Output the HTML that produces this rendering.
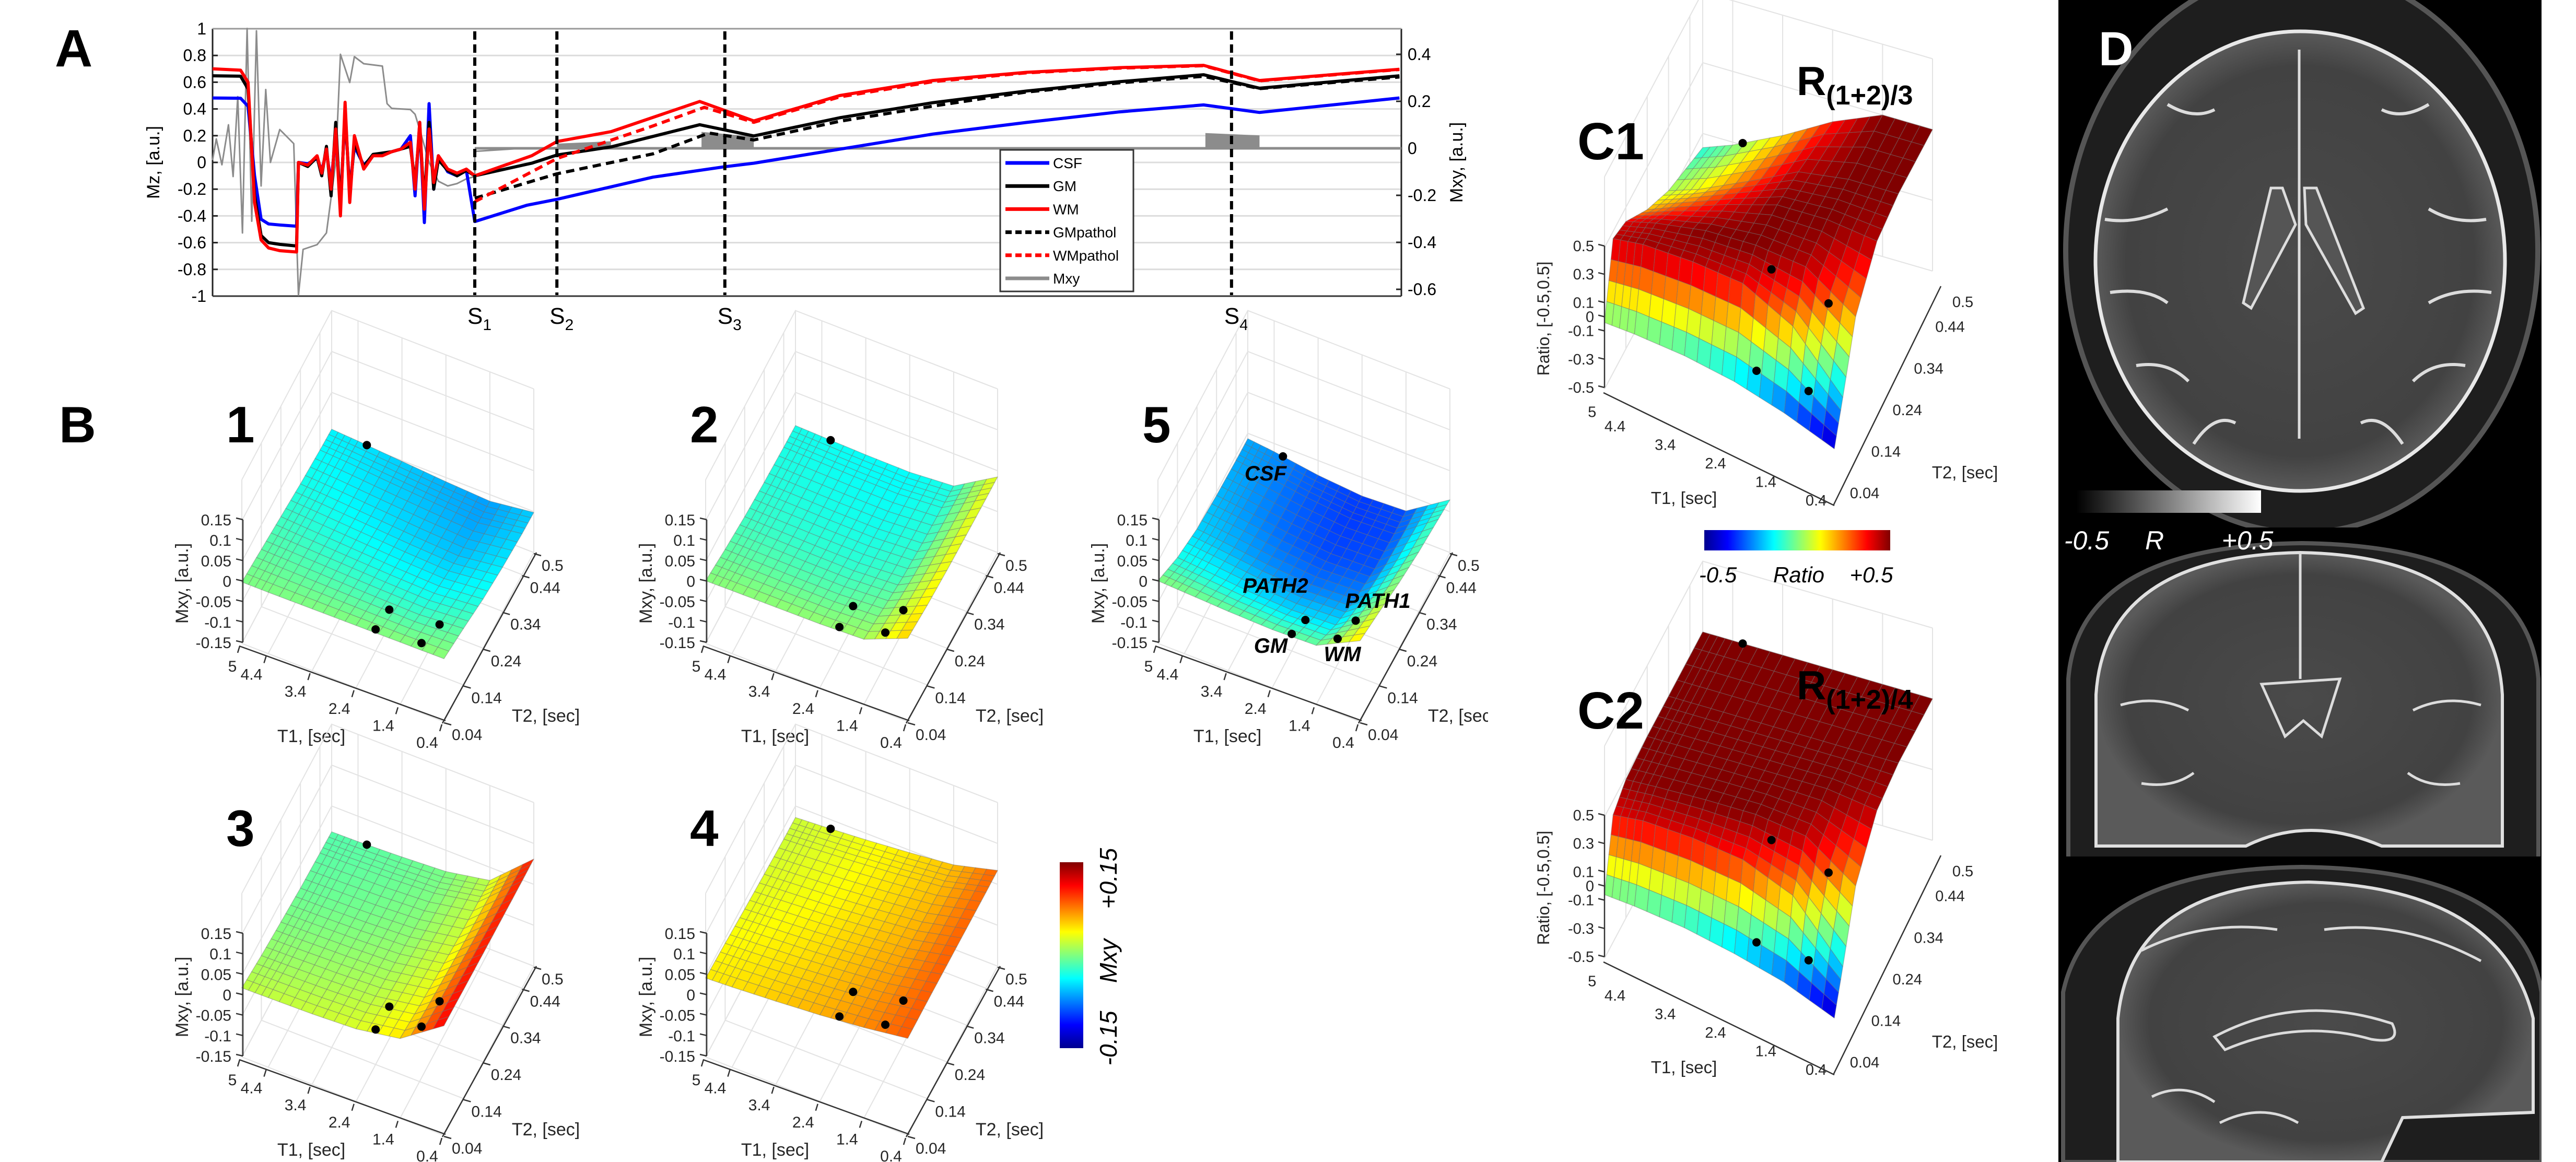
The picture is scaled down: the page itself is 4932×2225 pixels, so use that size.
<!DOCTYPE html>
<html><head><meta charset="utf-8">
<style>
html,body{margin:0;padding:0;background:#fff;overflow:hidden}
svg{display:block}
text{font-family:"Liberation Sans",sans-serif}
.nar{font-family:"Liberation Sans Narrow","Liberation Sans",sans-serif}
</style></head>
<body>
<svg id="fig" xmlns="http://www.w3.org/2000/svg" width="4932" height="2225" viewBox="0 0 4932 2225">
<defs>
<linearGradient id="jetH" x1="0" y1="0" x2="1" y2="0">
<stop offset="0" stop-color="#00008f"/><stop offset="0.125" stop-color="#0000ff"/><stop offset="0.375" stop-color="#00ffff"/><stop offset="0.625" stop-color="#ffff00"/><stop offset="0.875" stop-color="#ff0000"/><stop offset="1" stop-color="#800000"/>
</linearGradient>
<linearGradient id="jetV" x1="0" y1="1" x2="0" y2="0">
<stop offset="0" stop-color="#00008f"/><stop offset="0.125" stop-color="#0000ff"/><stop offset="0.375" stop-color="#00ffff"/><stop offset="0.625" stop-color="#ffff00"/><stop offset="0.875" stop-color="#ff0000"/><stop offset="1" stop-color="#800000"/>
</linearGradient>
<linearGradient id="grayH" x1="0" y1="0" x2="1" y2="0">
<stop offset="0" stop-color="#000"/><stop offset="1" stop-color="#fff"/>
</linearGradient>
<radialGradient id="brainG" cx="0.5" cy="0.5" r="0.5">
<stop offset="0" stop-color="#4a4a4a"/><stop offset="0.85" stop-color="#424242"/><stop offset="1" stop-color="#5a5a5a"/>
</radialGradient>
</defs>
</svg>
<script>
// ================= PANEL A DATA =================
const preTime=[0,30,38,45,52,60,72,90];
const oscTime=[92,102,112,117,122,127,132,137,142,147,152,162,172,182,192,202,212,217,222,227,232,237,242,252,262,272];
const wmPre=[0.70,0.69,0.6,-0.3,-0.58,-0.64,-0.66,-0.67];
const gmPre=[0.648,0.645,0.55,-0.25,-0.547,-0.6,-0.613,-0.625];
const csfPre=[0.482,0.48,0.42,-0.1,-0.425,-0.46,-0.468,-0.477];
const wmOsc=[0,-0.02,0.05,-0.08,0.1,-0.2,0.25,-0.4,0.45,-0.3,0.2,-0.05,0.05,0.05,0.08,0.1,0.15,-0.2,0.3,-0.35,0.25,-0.15,0.05,-0.05,-0.08,-0.05];
const gmOsc=[0,-0.03,0.04,-0.1,0.12,-0.25,0.3,-0.35,0.4,-0.25,0.15,-0.03,0.06,0.07,0.08,0.1,0.12,-0.15,0.25,-0.3,0.3,-0.2,0.02,-0.06,-0.1,-0.06];
const csfOsc=[0,-0.01,0.03,-0.06,0.08,-0.15,0.2,-0.3,0.35,-0.2,0.12,-0.02,0.05,0.06,0.08,0.1,0.2,-0.25,0.3,-0.45,0.44,-0.2,0.05,-0.07,-0.1,-0.06];
const wmPostTime=[281,342,369,427,522,580,672,772,872,972,1062,1122,1272];
const wmPost=[-0.1,0.05,0.156,0.23,0.456,0.31,0.5,0.613,0.674,0.709,0.726,0.613,0.697];
const gmPostTime=[281,342,369,427,522,580,672,772,872,972,1062,1122,1272];
const gmPost=[-0.1,-0.006,0.055,0.116,0.282,0.198,0.334,0.447,0.534,0.604,0.656,0.555,0.648];
const csfPostTime=[281,337,369,472,549,580,672,772,872,972,1062,1122,1272];
const csfPost=[-0.442,-0.32,-0.276,-0.11,-0.032,-0.006,0.099,0.212,0.299,0.378,0.43,0.374,0.482];
const gmpTime=[281,369,472,532,580,672,772,872,972,1062,1122,1272];
const gmpVal=[-0.268,-0.085,0.064,0.22,0.168,0.308,0.421,0.526,0.595,0.644,0.552,0.639];
const wmpTime=[281,369,472,527,580,672,772,872,972,1062,1122,1272];
const wmpVal=[-0.294,0.029,0.273,0.412,0.30,0.49,0.604,0.67,0.705,0.723,0.61,0.695];
const mxyTime=[0,4,10,17,22,27,32,37,42,47,52,57,62,72,82,87,92,97,112,122,132,137,147,152,162,182,187,192,212,217,222,232,242,252,262,272,281,281,332,369,427,1274];
const mxyVal=[-0.05,0.04,-0.07,0.1,-0.12,0.22,-0.36,0.51,-0.31,0.5,-0.16,0.25,-0.06,0.08,0.04,0.02,-0.625,-0.43,-0.41,-0.36,-0.06,0.4,0.28,0.39,0.36,0.35,0.19,0.17,0.165,0.145,0.08,-0.06,-0.14,-0.16,-0.15,-0.13,-0.12,-0.013,0.0,0.003,0.0,0.0];
const barStart=[369,524,1064];
const barEnd=[427,580,1122];
const barTopStart=[0.02,0.07,0.065];
const barTopEnd=[0.03,0.05,0.055];
const sTimes=[281,369,549,1092];
const sNames=['1','2','3','4'];
const mzTicks=[1,0.8,0.6,0.4,0.2,0,-0.2,-0.4,-0.6,-0.8,-1];
const mzTickLabels=['1','0.8','0.6','0.4','0.2','0','-0.2','-0.4','-0.6','-0.8','-1'];
const mxyTicks=[0.4,0.2,0,-0.2,-0.4,-0.6];
const mxyTickLabels=['0.4','0.2','0','-0.2','-0.4','-0.6'];
const legendNames=['CSF','GM','WM','GMpathol','WMpathol','Mxy'];

// ================= PANEL B / C DATA =================
const t1Grid=[5,4.4,3.4,2.4,1.4,0.4];
const t2Grid=[0.04,0.14,0.24,0.34,0.44,0.5];
const t2GridC=[0.04,0.08,0.14,0.24,0.34,0.5];
const mxyS1=[[0.0,-0.01,-0.02,-0.03,-0.037,-0.04],[0.0,-0.012,-0.024,-0.034,-0.041,-0.044],[0.001,-0.015,-0.03,-0.042,-0.05,-0.052],[0.002,-0.018,-0.036,-0.05,-0.058,-0.06],[0.003,-0.02,-0.04,-0.056,-0.065,-0.066],[0.004,-0.012,-0.03,-0.042,-0.05,-0.052]];
const mxyS2=[[0.003,-0.01,-0.02,-0.026,-0.03,-0.031],[0.004,-0.011,-0.022,-0.028,-0.032,-0.033],[0.005,-0.012,-0.024,-0.031,-0.035,-0.036],[0.006,-0.012,-0.025,-0.032,-0.036,-0.037],[0.01,-0.005,-0.018,-0.025,-0.028,-0.029],[0.054,0.045,0.04,0.037,0.035,0.035]];
const mxyS3=[[0.019,0.008,0.0,-0.007,-0.011,-0.013],[0.02,0.009,0.001,-0.006,-0.01,-0.012],[0.022,0.012,0.004,-0.003,-0.007,-0.008],[0.027,0.017,0.009,0.003,-0.001,-0.002],[0.045,0.035,0.028,0.022,0.019,0.018],[0.118,0.116,0.114,0.113,0.112,0.112]];
const mxyS4=[[0.043,0.038,0.032,0.027,0.023,0.022],[0.046,0.041,0.036,0.031,0.027,0.026],[0.053,0.048,0.043,0.038,0.035,0.034],[0.061,0.057,0.053,0.048,0.045,0.044],[0.072,0.068,0.064,0.06,0.057,0.056],[0.087,0.087,0.086,0.085,0.084,0.084]];
const mxyS5=[[0.003,-0.03,-0.05,-0.058,-0.062,-0.063],[0.0,-0.035,-0.057,-0.066,-0.07,-0.07],[-0.005,-0.045,-0.07,-0.082,-0.086,-0.086],[-0.008,-0.05,-0.078,-0.092,-0.096,-0.095],[-0.005,-0.045,-0.072,-0.088,-0.092,-0.09],[0.048,0.03,0.01,-0.005,-0.015,-0.021]];
const ratioC1=[[-0.03,0.45,0.4,0.2,0.05,-0.1],[-0.05,0.47,0.45,0.28,0.12,-0.02],[-0.1,0.45,0.5,0.4,0.28,0.15],[-0.18,0.4,0.5,0.5,0.45,0.35],[-0.3,0.2,0.45,0.5,0.5,0.5],[-0.45,-0.2,0.2,0.45,0.5,0.5]];
const ratioC2=[[-0.05,0.4,0.48,0.5,0.5,0.5],[-0.07,0.42,0.49,0.5,0.5,0.5],[-0.12,0.4,0.5,0.5,0.5,0.5],[-0.2,0.35,0.5,0.5,0.5,0.5],[-0.3,0.2,0.45,0.5,0.5,0.5],[-0.45,-0.2,0.2,0.45,0.5,0.5]];
const tissueNames=['CSF','GM','WM','PATH2','PATH1'];
const tissueT1=[4.2,2.0,1.0,2.0,0.9];
const tissueT2=[0.5,0.05,0.06,0.12,0.13];
const bZTicks=[0.15,0.1,0.05,0,-0.05,-0.1,-0.15];
const bZLabels=['0.15','0.1','0.05','0','-0.05','-0.1','-0.15'];
const t1Ticks=[5,4.4,3.4,2.4,1.4,0.4];
const t1Labels=['5','4.4','3.4','2.4','1.4','0.4'];
const t2Ticks=[0.04,0.14,0.24,0.34,0.44,0.5];
const t2Labels=['0.04','0.14','0.24','0.34','0.44','0.5'];
const cZTicks=[0.5,0.3,0.1,0,-0.1,-0.3,-0.5];
const cZLabels=['0.5','0.3','0.1','0','-0.1','-0.3','-0.5'];

const NS='http://www.w3.org/2000/svg';
const svg=document.getElementById('fig');
function mk(tag,attrs,parent){const e=document.createElementNS(NS,tag);for(const k in attrs)e.setAttribute(k,attrs[k]);(parent||svg).appendChild(e);return e;}
function tx(str,x,y,attrs,parent){const e=mk('text',Object.assign({x:x,y:y},attrs||{}),parent);e.textContent=str;return e;}
function grp(){return mk('g',{});}
function jet(t){t=Math.max(0,Math.min(1,t));const c=v=>Math.round(255*Math.max(0,Math.min(1,v)));return 'rgb('+c(1.5-Math.abs(4*t-3))+','+c(1.5-Math.abs(4*t-2))+','+c(1.5-Math.abs(4*t-1))+')';}

// ================= PANEL A =================
const gA=grp();


const A={x0:407,x1:2683,tmax:1274};
function xA(t){return A.x0+t/A.tmax*(A.x1-A.x0);}
function yL(v){return 311-v*256;}
function yR(v){return 284-v*450;}
let lab=tx('A',105,127,{'font-size':100,'font-weight':'bold'},gA);


for(let i=0;i<mzTicks.length;i++){
  const y=yL(mzTicks[i]);
  const gl=mk('line',{x1:A.x0,x2:A.x1,y1:y,y2:y,stroke:'#dcdcdc','stroke-width':3},gA);
  
  
  const tk=mk('line',{x1:A.x0,x2:A.x0+10,y1:y,y2:y,stroke:'#222','stroke-width':3},gA);
  
  
  const tl=tx(mzTickLabels[i],395,y+11,{'font-size':32,'text-anchor':'end',class:'nar'},gA);
  
  
}
for(let i=0;i<mxyTicks.length;i++){
  const y=yR(mxyTicks[i]);
  const tk=mk('line',{x1:A.x1-10,x2:A.x1,y1:y,y2:y,stroke:'#222','stroke-width':3},gA);
  
  
  const tl=tx(mxyTickLabels[i],2695,y+11,{'font-size':32,class:'nar'},gA);
  
  
}
let ax=mk('line',{x1:A.x0,x2:A.x0,y1:55,y2:567,stroke:'#222','stroke-width':3},gA);


ax=mk('line',{x1:A.x1,x2:A.x1,y1:55,y2:567,stroke:'#222','stroke-width':3},gA);


ax=mk('line',{x1:A.x0,x2:A.x1,y1:567,y2:567,stroke:'#333','stroke-width':3},gA);


ax=mk('line',{x1:A.x0,x2:A.x1,y1:55,y2:55,stroke:'#999','stroke-width':3},gA);


let yt=tx('Mz, [a.u.]',0,0,{'font-size':34,'text-anchor':'middle',transform:'translate(305,311) rotate(-90)'},gA);


yt=tx('Mxy, [a.u.]',0,0,{'font-size':34,'text-anchor':'middle',transform:'translate(2800,311) rotate(-90)'},gA);


let zl=mk('line',{x1:xA(281),x2:A.x1,y1:yR(0),y2:yR(0),stroke:'#8c8c8c','stroke-width':5},gA);


for(let i=0;i<barStart.length;i++){
  const p=[[xA(barStart[i]),yR(0)],[xA(barStart[i]),yR(barTopStart[i])],[xA(barEnd[i]),yR(barTopEnd[i])],[xA(barEnd[i]),yR(0)]];
  const b=mk('polygon',{points:p.map(q=>q.join(',')).join(' '),fill:'#8c8c8c'},gA);
  
  
}
function line(times,vals,yf,color,w,dash,name){
  const d=times.map((t,i)=>(i?'L':'M')+xA(t).toFixed(1)+','+yf(vals[i]).toFixed(1)).join('');
  const p=mk('path',{d:d,fill:'none',stroke:color,'stroke-width':w,'stroke-linejoin':'round'},gA);
  if(dash)p.setAttribute('stroke-dasharray',dash);
  
  
}
line(mxyTime,mxyVal,yR,'#8c8c8c',3,null,'mxy-line');
line(preTime.concat(oscTime,csfPostTime),csfPre.concat(csfOsc,csfPost),yL,'#0000ff',6,null,'csf-line');
line(preTime.concat(oscTime,gmPostTime),gmPre.concat(gmOsc,gmPost),yL,'#000000',6,null,'gm-line');
line(preTime.concat(oscTime,wmPostTime),wmPre.concat(wmOsc,wmPost),yL,'#ff0000',6,null,'wm-line');
line(gmpTime,gmpVal,yL,'#000000',6,'16 10','gmpathol-line');
line(wmpTime,wmpVal,yL,'#ff0000',6,'16 10','wmpathol-line');
for(let i=0;i<sTimes.length;i++){
  const x=xA(sTimes[i]);
  const s=mk('line',{x1:x,x2:x,y1:60,y2:565,stroke:'#000','stroke-width':6,'stroke-dasharray':'16 9'},gA);
  
  
  const t=tx('S',x-14,620,{'font-size':44,class:'nar'},gA);
  
  
  const sb=mk('tspan',{'font-size':30,dy:12},t);
  sb.textContent=sNames[i];
}
const lg=mk('g',{},gA);


const lr=mk('rect',{x:1915,y:287,width:255,height:271,fill:'#fff',stroke:'#333','stroke-width':3},lg);


const lgColors=['#0000ff','#000','#ff0000','#000','#ff0000','#8c8c8c'];
const lgDash=[null,null,null,'12 7','12 7',null];
for(let i=0;i<legendNames.length;i++){
  const y=312+i*44.2;
  const l=mk('line',{x1:1925,x2:2009,y1:y,y2:y,stroke:lgColors[i],'stroke-width':7},lg);
  if(lgDash[i])l.setAttribute('stroke-dasharray',lgDash[i]);
  
  
  const t=tx(legendNames[i],2016,y+10,{'font-size':28,class:'nar'},lg);
  
  
}

// ================= 3D helpers =================
function seg(arr,val){for(let i=0;i<arr.length-1;i++){const a=arr[i],b=arr[i+1];const f=(val-a)/(b-a);if(f>=0&&f<=1)return [i,f];}return val>arr[0]===arr[0]<arr[1]?[arr.length-2,1]:[0,0];}
function zAt(grid,g1,g2,t1,t2){const [i,fi]=seg(g1,t1),[j,fj]=seg(g2,t2);const a=grid[i][j],b=grid[i][j+1],c=grid[i+1][j],d=grid[i+1][j+1];return (a*(1-fj)+b*fj)*(1-fi)+(c*(1-fj)+d*fj)*fi;}
function drawSurface(grid,g1,g2,proj,colorOf,parent){
  const N=4,n1=(g1.length-1)*N,n2=(g2.length-1)*N;
  const P=[];
  for(let i=0;i<=n1;i++){P.push([]);for(let j=0;j<=n2;j++){
    const gi=Math.min(Math.floor(i/N),g1.length-2),fi=i/N-gi,gj=Math.min(Math.floor(j/N),g2.length-2),fj=j/N-gj;
    const t1=g1[gi]+(g1[gi+1]-g1[gi])*fi,t2=g2[gj]+(g2[gj+1]-g2[gj])*fj;
    const z=zAt(grid,g1,g2,t1,t2);
    P[i].push({p:proj(t1,t2,z),z:z});}}
  const cells=[];
  for(let i=0;i<n1;i++)for(let j=0;j<n2;j++)cells.push([i,j]);
  cells.sort((a,b)=>(a[0]-a[1])-(b[0]-b[1]));
  for(const [i,j] of cells){
    const q=[P[i][j],P[i][j+1],P[i+1][j+1],P[i+1][j]];
    const z=(q[0].z+q[1].z+q[2].z+q[3].z)/4;
    const c=mk('polygon',{points:q.map(o=>o.p[0].toFixed(1)+','+o.p[1].toFixed(1)).join(' '),fill:colorOf(z),stroke:'rgba(110,110,110,0.45)','stroke-width':1.3,'stroke-linejoin':'round'},parent);
    
    
  }
}

// ================= PANEL B =================
const panelsB=[
 {name:'1',ox:0,oy:0,grid:mxyS1},
 {name:'2',ox:888,oy:0,grid:mxyS2},
 {name:'5',ox:1754,oy:0,grid:mxyS5},
 {name:'3',ox:0,oy:792,grid:mxyS3},
 {name:'4',ox:888,oy:792,grid:mxyS4}];
let bl=tx('B',113,847,{'font-size':98,'font-weight':'bold'});


panelsB.forEach(pb=>{
  const g=grp();
  
  
  const ox=pb.ox,oy=pb.oy;
  const proj=(t1,t2,z)=>{const u=(5-t1)/4.6,v=(t2-0.04)/0.46;return [463+u*387+v*172+ox,1232+u*150-v*324-(z+0.15)/0.3*235+oy];};
  for(const z of [-0.15,-0.05,0.05,0.15,0.25]){
    const a=proj(5,0.04,z),b=proj(5,0.5,z),c=proj(0.4,0.5,z);
    const w=mk('polyline',{points:[a,b,c].map(q=>q.join(',')).join(' '),fill:'none',stroke:'#e3e3e3','stroke-width':2},g);
    
    
  }
  for(const t1 of t1Ticks){const a=proj(t1,0.5,-0.15),b=proj(t1,0.5,0.25);const w=mk('line',{x1:a[0],y1:a[1],x2:b[0],y2:b[1],stroke:'#e3e3e3','stroke-width':2},g);}
  for(const t2 of t2Ticks){const a=proj(5,t2,-0.15),b=proj(5,t2,0.25);const w=mk('line',{x1:a[0],y1:a[1],x2:b[0],y2:b[1],stroke:'#e3e3e3','stroke-width':2},g);}
  for(const t1 of t1Ticks){const a=proj(t1,0.04,-0.15),b=proj(t1,0.5,-0.15);const w=mk('line',{x1:a[0],y1:a[1],x2:b[0],y2:b[1],stroke:'#e3e3e3','stroke-width':2},g);}
  for(const t2 of t2Ticks){const a=proj(5,t2,-0.15),b=proj(0.4,t2,-0.15);const w=mk('line',{x1:a[0],y1:a[1],x2:b[0],y2:b[1],stroke:'#e3e3e3','stroke-width':2},g);}
  drawSurface(pb.grid,t1Grid,t2Grid,proj,z=>jet((z+0.15)/0.3),g);
  for(let k=0;k<tissueNames.length;k++){
    const p=proj(tissueT1[k],tissueT2[k],zAt(pb.grid,t1Grid,t2Grid,tissueT1[k],tissueT2[k]));
    const d=mk('circle',{cx:p[0],cy:p[1],r:8,fill:'#000'},g);
    
    
  }
  const za=mk('line',{x1:465+ox,x2:465+ox,y1:995+oy,y2:1230+oy,stroke:'#333','stroke-width':2.5},g);
  
  
  for(let i=0;i<bZTicks.length;i++){
    const y=1230-(bZTicks[i]+0.15)/0.3*235+oy;
    const tk=mk('line',{x1:452+ox,x2:465+ox,y1:y-3,y2:y,stroke:'#333','stroke-width':2.5},g);
    
    
    const t=tx(bZLabels[i],443+ox,y+11,{'font-size':30,'text-anchor':'end',fill:'#262626'},g);
    
    
  }
  const fa=proj(5,0.04,-0.15),fb=proj(0.4,0.04,-0.15),fc=proj(0.4,0.5,-0.15);
  const t1a=mk('line',{x1:fa[0]-5,y1:fa[1]+5,x2:fb[0]+3,y2:fb[1]-2,stroke:'#333','stroke-width':2.5},g);
  
  
  const t2a=mk('line',{x1:fb[0]-3,y1:fb[1]+3,x2:fc[0]+5,y2:fc[1],stroke:'#333','stroke-width':2.5},g);
  
  
  for(let i=0;i<t1Ticks.length;i++){
    const p=proj(t1Ticks[i],0.04,-0.15);
    const tk=mk('line',{x1:p[0]-4,y1:p[1]+5,x2:p[0]-8,y2:p[1]+18,stroke:'#333','stroke-width':2.5},g);
    
    
    const t=tx(t1Labels[i],p[0]-(i===0?18:32),p[1]+(i===0?54:50),{'font-size':30,'text-anchor':'middle',fill:'#262626'},g);
    
    
  }
  for(let i=0;i<t2Ticks.length;i++){
    const p=proj(0.4,t2Ticks[i],-0.15);
    const tk=mk('line',{x1:p[0],y1:p[1]+2,x2:p[0]+14,y2:p[1]+6,stroke:'#333','stroke-width':2.5},g);
    
    
    const t=tx(t2Labels[i],p[0]+15,p[1]+35,{'font-size':30,fill:'#262626'},g);
    
    
  }
  let at=tx('T1, [sec]',596+ox,1421+oy,{'font-size':34,'text-anchor':'middle',fill:'#262626'},g);
  
  
  at=tx('T2, [sec]',1045+ox,1382+oy,{'font-size':34,'text-anchor':'middle',fill:'#262626'},g);
  
  
  at=tx('Mxy, [a.u.]',0,0,{'font-size':34,'text-anchor':'middle',fill:'#262626',transform:'translate('+(360+ox)+','+(1117+oy)+') rotate(-90)'},g);
  
  
  const nl=tx(pb.name,433+ox,(pb.oy?1620:847),{'font-size':98,'font-weight':'bold'},g);
  
  
});
const annot=[['CSF',2423,920],['PATH2',2442,1135],['PATH1',2638,1164],['GM',2433,1250],['WM',2570,1266]];
annot.forEach(a=>{const t=tx(a[0],a[1],a[2],{'font-size':40,'font-weight':'bold','font-style':'italic','text-anchor':'middle'});
  
  });
let cover=mk('rect',{x:2849,y:1330,width:60,height:70,fill:'#fff'});


let cb=mk('rect',{x:2029,y:1651,width:45,height:356,fill:'url(#jetV)'});


[['+0.15',1682],['Mxy',1840],['-0.15',1988]].forEach(a=>{const t=tx(a[0],0,0,{'font-size':46,'font-style':'italic','text-anchor':'middle',transform:'translate(2138,'+a[1]+') rotate(-90)'});
  
  });

// ================= PANEL C =================
const panelsC=[{name:'C1',sub:'(1+2)/3',oy:0,grid:ratioC1},{name:'C2',sub:'(1+2)/4',oy:1090,grid:ratioC2}];
panelsC.forEach((pc,ci)=>{
  const g=grp();
  
  
  const oy=pc.oy;
  const proj=(t1,t2,z)=>{const u=(5-t1)/4.6,v=(t2-0.04)/0.46;return [3072+u*440+v*188,745+u*128-v*354-(z+0.5)*271+oy];};
  for(const z of [-0.5,0,0.5,1.0]){
    const a=proj(5,0.04,z),b=proj(5,0.5,z),c=proj(0.4,0.5,z);
    const w=mk('polyline',{points:[a,b,c].map(q=>q.join(',')).join(' '),fill:'none',stroke:'#e3e3e3','stroke-width':2},g);
    
    
  }
  for(const t1 of t1Ticks){const a=proj(t1,0.5,-0.5),b=proj(t1,0.5,1.0);const w=mk('line',{x1:a[0],y1:a[1],x2:b[0],y2:b[1],stroke:'#e3e3e3','stroke-width':2},g);}
  for(const t2 of t2Ticks){const a=proj(5,t2,-0.5),b=proj(5,t2,1.0);const w=mk('line',{x1:a[0],y1:a[1],x2:b[0],y2:b[1],stroke:'#e3e3e3','stroke-width':2},g);}
  drawSurface(pc.grid,t1Grid,t2GridC,proj,z=>jet((z+0.5)/1.0),g);
  for(let k=0;k<tissueNames.length;k++){
    const p=proj(tissueT1[k],tissueT2[k],zAt(pc.grid,t1Grid,t2GridC,tissueT1[k],tissueT2[k]));
    const d=mk('circle',{cx:p[0],cy:p[1],r:8,fill:'#000'},g);
    
    
  }
  const za=mk('line',{x1:3072,x2:3072,y1:471+oy,y2:742+oy,stroke:'#333','stroke-width':2.5},g);
  
  
  for(let i=0;i<cZTicks.length;i++){
    const y=742-(cZTicks[i]+0.5)*271+oy;
    const tk=mk('line',{x1:3060,x2:3072,y1:y-3,y2:y,stroke:'#333','stroke-width':2.5},g);
    
    
    const t=tx(cZLabels[i],3052,y+10,{'font-size':29,'text-anchor':'end',fill:'#262626'},g);
    
    
  }
  let l=mk('line',{x1:3070,y1:752+oy,x2:3512,y2:968+oy,stroke:'#333','stroke-width':2.5},g);
  
  
  l=mk('line',{x1:3510,y1:968+oy,x2:3716,y2:548+oy,stroke:'#333','stroke-width':2.5},g);
  
  
  for(let i=0;i<t1Ticks.length;i++){
    const v=t1Ticks[i];
    const t=tx(t1Labels[i],3477+(v-0.4)*(-96.25)+(i===0?14:0),958+(v-0.4)*(-35.5)+10+oy-(i===0?6:0),{'font-size':29,'text-anchor':'middle',fill:'#262626'},g);
    
    
  }
  for(let i=0;i<t2Ticks.length;i++){
    const v=t2Ticks[i];
    const t=tx(t2Labels[i],3570+(v-0.04)*408.7,944+(v-0.04)*(-795.7)+10+oy,{'font-size':29,'text-anchor':'middle',fill:'#262626'},g);
    
    
  }
  let at=tx('T1, [sec]',3224,965+oy,{'font-size':33,'text-anchor':'middle',fill:'#262626'},g);
  
  
  at=tx('T2, [sec]',3762,916+oy,{'font-size':33,'text-anchor':'middle',fill:'#262626'},g);
  
  
  at=tx('Ratio, [-0.5,0.5]',0,0,{'font-size':32,'text-anchor':'middle',fill:'#262626',transform:'translate(2966,'+(610+oy)+') rotate(-90)'},g);
  
  
  const nm=tx(pc.name,3020,305+oy,{'font-size':100,'font-weight':'bold'},g);
  
  
  const rt=tx('R',3440,182+oy+(ci?67:0),{'font-size':78,'font-weight':'bold'},g);
  
  
  const ts=mk('tspan',{'font-size':52,dy:18},rt);
  ts.textContent=pc.sub;
});
cb=mk('rect',{x:3263,y:1015,width:356,height:39,fill:'url(#jetH)'});


[['-0.5',3289],['Ratio',3444],['+0.5',3583]].forEach(a=>{const t=tx(a[0],a[1],1115,{'font-size':42,'font-style':'italic','text-anchor':'middle'});
  
  });

// ================= PANEL D =================
const gD=grp();


let r=mk('rect',{x:3941,y:0,width:926,height:2225,fill:'#000'},gD);


let e=mk('ellipse',{cx:4407,cy:480,rx:452,ry:540,fill:'#1e1e1e',stroke:'#555','stroke-width':10},gD);


e=mk('ellipse',{cx:4404,cy:500,rx:392,ry:440,fill:'url(#brainG)',stroke:'#e8e8e8','stroke-width':7},gD);


let p=mk('path',{d:'M4348,360 L4370,360 L4395,430 L4310,590 L4295,580 Z M4412,360 L4435,360 L4525,590 L4510,600 L4415,430 Z M4402,95 L4402,840',fill:'#555',stroke:'#ddd','stroke-width':5},gD);


p=mk('path',{d:'M4030,420 q60,10 120,-20 M4040,560 q70,-10 110,20 M4760,420 q-60,10 -110,-20 M4770,560 q-70,-10 -120,20 M4150,200 q50,30 90,10 M4650,200 q-50,30 -90,10 M4200,850 q40,-60 80,-40 M4600,850 q-40,-60 -80,-40 M4090,700 q60,-10 100,30 M4720,700 q-60,-10 -100,30',fill:'none',stroke:'#dcdcdc','stroke-width':6},gD);


r=mk('rect',{x:3941,y:1010,width:926,height:30,fill:'#000'},gD);


p=mk('path',{d:'M3960,1646 L3960,1300 Q3980,1045 4407,1040 Q4840,1045 4860,1300 L4860,1646 Z',fill:'#1e1e1e',stroke:'#555','stroke-width':8},gD);


p=mk('path',{d:'M4013,1620 L4013,1330 Q4030,1065 4404,1058 Q4775,1065 4791,1330 L4791,1620 L4560,1620 Q4420,1560 4300,1620 Z',fill:'url(#brainG)',stroke:'#e0e0e0','stroke-width':6},gD);


p=mk('path',{d:'M4330,1310 L4480,1300 L4445,1410 L4410,1380 L4375,1410 Z M4404,1060 L4404,1300 M4060,1350 q70,-20 130,10 M4750,1350 q-70,-20 -130,10 M4100,1500 q60,10 100,-20 M4710,1500 q-60,10 -100,-20',fill:'none',stroke:'#dcdcdc','stroke-width':5},gD);


r=mk('rect',{x:3941,y:1640,width:926,height:14,fill:'#000'},gD);


p=mk('path',{d:'M3950,2225 L3950,1900 Q4000,1665 4407,1660 Q4830,1665 4866,1900 L4866,2225 Z',fill:'#1e1e1e',stroke:'#555','stroke-width':8},gD);


p=mk('path',{d:'M4055,2225 L4055,1950 Q4080,1695 4420,1689 Q4790,1700 4850,1950 L4850,2130 L4600,2140 L4560,2225 Z',fill:'url(#brainG)',stroke:'#e0e0e0','stroke-width':6},gD);


p=mk('path',{d:'M4240,1985 Q4400,1900 4580,1960 Q4600,2000 4540,1990 Q4400,1950 4260,2010 Z M4100,1820 q120,-60 260,-40 M4450,1780 q150,-20 300,60 M4120,2100 q60,-30 120,10 M4250,2150 q80,-40 150,0',fill:'none',stroke:'#dcdcdc','stroke-width':5},gD);


r=mk('rect',{x:4866,y:0,width:66,height:2225,fill:'#fff'},gD);


let dl=tx('D',4018,125,{'font-size':92,'font-weight':'bold',fill:'#fff'},gD);


r=mk('rect',{x:3975,y:939,width:354,height:43,fill:'url(#grayH)'},gD);


[['-0.5',3995],['R',4125],['+0.5',4303]].forEach(a=>{const t=tx(a[0],a[1],1052,{'font-size':50,'font-style':'italic','text-anchor':'middle',fill:'#fff'},gD);
  
  });
</script>
</body></html>
